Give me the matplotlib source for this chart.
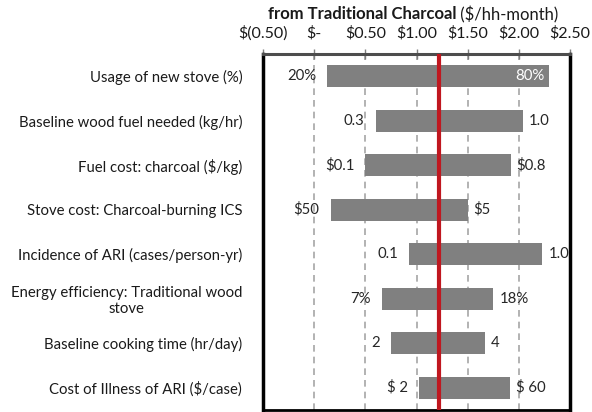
import matplotlib
matplotlib.use('Agg')
import matplotlib.pyplot as plt

# tornado data ($/hh-month)
categories = [
    'Usage of new stove (%)',
    'Baseline wood fuel needed (kg/hr)',
    'Fuel cost: charcoal ($/kg)',
    'Stove cost: Charcoal-burning ICS',
    'Incidence of ARI (cases/person-yr)',
    'Energy efficiency: Traditional wood\nstove',
    'Baseline cooking time (hr/day)',
    'Cost of Illness of ARI ($/case)',
]
low_result  = [0.13, 0.60, 0.50, 0.16, 0.93, 0.66, 0.75, 1.02]
high_result = [2.29, 2.04, 1.92, 1.50, 2.23, 1.75, 1.67, 1.91]
low_labels  = ['20%', '0.3', '$0.1', '$50', '0.1', '7%', '2', '$ 2']
high_labels = ['80%', '1.0', '$0.8', '$5', '1.0', '18%', '4', '$ 60']
base_case = 1.22

tick_vals   = [-0.5, 0.0, 0.5, 1.0, 1.5, 2.0, 2.5]
tick_labels = ['$(0.50)', '$-', '$0.50', '$1.00', '$1.50', '$2.00', '$2.50']

plt.rcParams['font.family'] = ['Lato', 'DejaVu Sans']
FS = 10.7

fig = plt.figure(figsize=(5.92, 4.12), dpi=100)
ax = fig.add_axes([0.4443, 0.005, 0.5186, 0.864])

y = list(range(len(categories)))
widths = [h - l for l, h in zip(low_result, high_result)]
ax.barh(y, widths, left=low_result, height=0.49, color='#808080', zorder=2)

for v in tick_vals[1:-1]:
    ax.axvline(v, color='#A6A6A6', lw=1.2, ls=(0, (4, 3)), zorder=1)
ax.axvline(base_case, color='#C0171F', lw=3, zorder=3)

ax.set_xlim(-0.5, 2.5)
ax.set_ylim(len(categories) - 0.5, -0.5)

for i in y:
    ax.annotate(low_labels[i], (low_result[i], i), xytext=(-11, 0),
                textcoords='offset pixels', ha='right', va='center',
                fontsize=FS, color='#262626')
    # label would spill over the frame -> put it inside the bar
    if high_result[i] + 0.09 * len(high_labels[i]) > 2.5:
        ax.annotate(high_labels[i], (high_result[i], i), xytext=(-4, 0),
                    textcoords='offset pixels', ha='right', va='center',
                    fontsize=FS, color='white', zorder=4)
    else:
        ax.annotate(high_labels[i], (high_result[i], i), xytext=(6, 0),
                    textcoords='offset pixels', ha='left', va='center',
                    fontsize=FS, color='#262626')

ax.set_yticks(y)
ax.set_yticklabels(categories, fontsize=FS, color='#1a1a1a', multialignment='center')
ax.tick_params(axis='y', length=0, pad=15)

ax.xaxis.tick_top()
ax.set_xticks(tick_vals)
ax.set_xticklabels(tick_labels, fontsize=11.5, color='#1a1a1a')
ax.tick_params(axis='x', direction='inout', length=7, width=1, color='#7f7f7f', pad=6)

for side in ['left', 'right']:
    ax.spines[side].set_linewidth(2.5)
    ax.spines[side].set_color('black')
ax.spines['top'].set_linewidth(2.2)
ax.spines['top'].set_color('#4d4d4d')
ax.spines['bottom'].set_linewidth(2)
ax.spines['bottom'].set_color('black')

# title: bold part followed by regular units
fig.canvas.draw()
r = fig.canvas.get_renderer()
t1 = fig.text(0.5, 0.965, 'from Traditional Charcoal', fontsize=12,
              fontweight='bold', ha='left', va='center', color='#1a1a1a')
t2 = fig.text(0.5, 0.965, ' ($/hh-month)', fontsize=12, ha='left',
              va='center', color='#1a1a1a')
w1 = t1.get_window_extent(r).width
w2 = t2.get_window_extent(r).width
cx = 413 / 592 * fig.bbox.width
x0 = cx - (w1 + w2) / 2
t1.set_x(x0 / fig.bbox.width)
t2.set_x((x0 + w1) / fig.bbox.width)

plt.savefig('out.png', dpi=100)
plt.close()
